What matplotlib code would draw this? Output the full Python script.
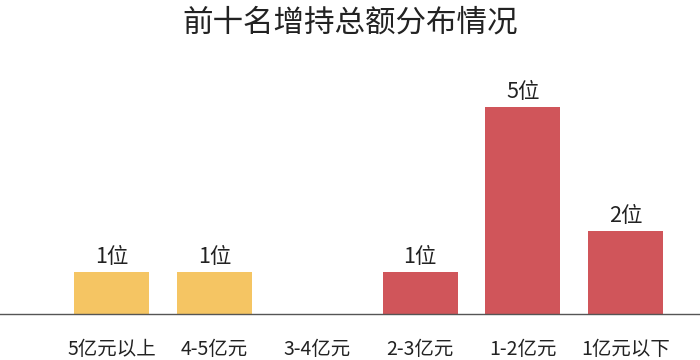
import matplotlib
matplotlib.use('Agg')
import matplotlib.pyplot as plt

plt.rcParams['font.family'] = ['Noto Sans CJK SC', 'DejaVu Sans']

# 数据
categories = ['5亿元以上', '4-5亿元', '3-4亿元', '2-3亿元', '1-2亿元', '1亿元以下']
counts = [1, 1, 0, 1, 5, 2]
colors = ['#F5C563', '#F5C563', '#F5C563', '#D0555A', '#D0555A', '#D0555A']

fig = plt.figure(figsize=(7, 3.6), dpi=100)
ax = fig.add_axes([0, 0.129, 1, 0.704])

x = list(range(len(categories)))
bars = ax.bar(x, counts, width=0.73, color=colors)

for xi, c in zip(x, counts):
    if c > 0:
        ax.text(xi, c + 0.1, '%d位' % c, ha='center', va='bottom',
                fontsize=15.5, color='#222222')

ax.set_xlim(-1.09, 5.725)
ax.set_ylim(0, 6.14)
ax.set_yticks([])
ax.set_xticks(x)
ax.set_xticklabels(categories, fontsize=14, color='#222222')
ax.tick_params(axis='x', length=0, pad=18)
for s in ['top', 'right', 'left']:
    ax.spines[s].set_visible(False)
ax.spines['bottom'].set_color('#555555')
ax.spines['bottom'].set_linewidth(1)

fig.text(0.5, 0.935, '前十名增持总额分布情况', ha='center', va='center',
         fontsize=22, color='#222222')

fig.savefig('out.png', dpi=100, facecolor='white')
